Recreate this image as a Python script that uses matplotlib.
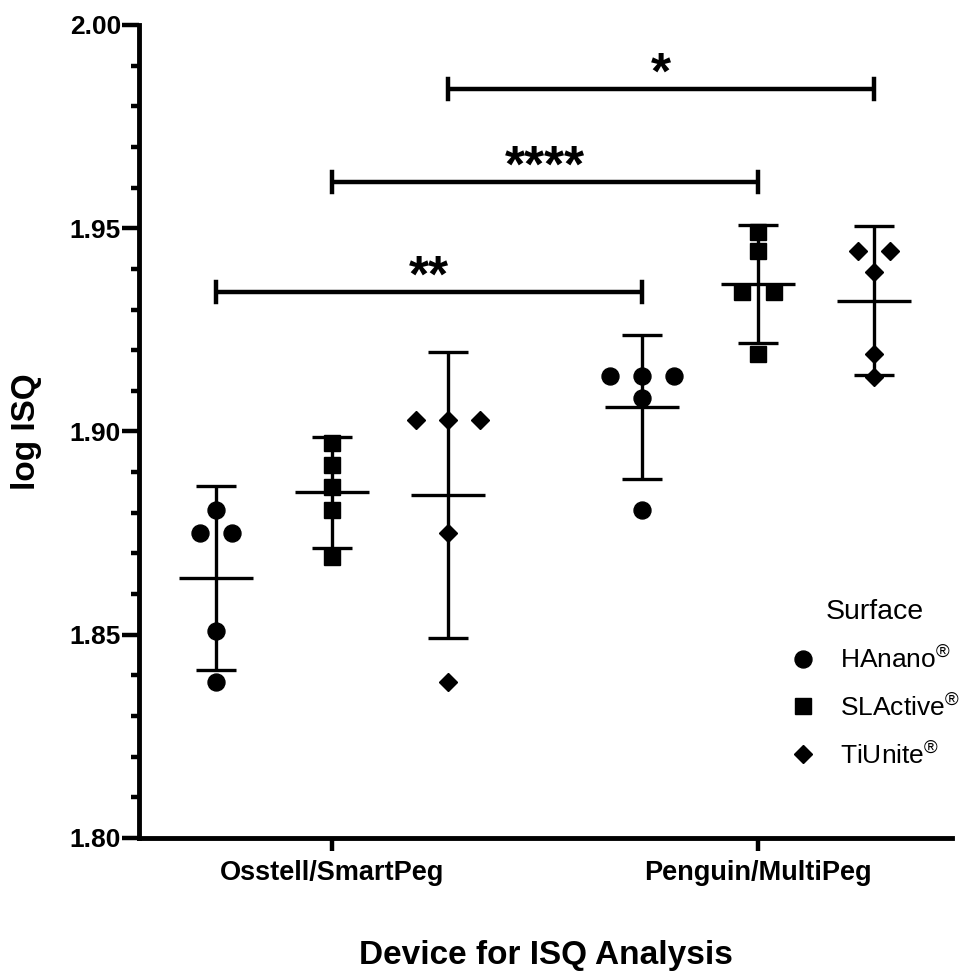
import numpy as np
import matplotlib
matplotlib.use("Agg")
import matplotlib.pyplot as plt
from matplotlib.lines import Line2D
from matplotlib.ticker import MultipleLocator, FormatStrFormatter

plt.rcParams["font.family"] = ["Liberation Sans", "DejaVu Sans"]
plt.rcParams["mathtext.fontset"] = "custom"
plt.rcParams["mathtext.rm"] = "Liberation Sans"
plt.rcParams["mathtext.bf"] = "Liberation Sans:bold"

devices = ["Osstell/SmartPeg", "Penguin/MultiPeg"]
surfaces = ["HAnano", "SLActive", "TiUnite"]
markers = ["o", "s", "D"]
marker_sizes = [12.2, 12, 9]

# log ISQ values
osstell_hanano = [1.8807, 1.8750, 1.8750, 1.8509, 1.8384]
osstell_slactive = [1.8971, 1.8918, 1.8863, 1.8807, 1.8692]
osstell_tiunite = [1.9028, 1.9028, 1.9028, 1.8750, 1.8384]
penguin_hanano = [1.9137, 1.9137, 1.9137, 1.9083, 1.8807]
penguin_slactive = [1.9491, 1.9444, 1.9343, 1.9343, 1.9191]
penguin_tiunite = [1.9444, 1.9444, 1.9393, 1.9191, 1.9135]

# SD (error bars)
osstell_sd = [0.0227, 0.0136, 0.0352]
penguin_sd = [0.0178, 0.0145, 0.0183]

# significance brackets: one per surface, Osstell vs Penguin
sig_labels = ["**", "****", "*"]
sig_heights = [1.9343, 1.9614, 1.9843]

groups = [
    [osstell_hanano, osstell_slactive, osstell_tiunite],
    [penguin_hanano, penguin_slactive, penguin_tiunite],
]
sds = [osstell_sd, penguin_sd]

gap = 0.272
jitter = 0.075
lw = 2.4

fig = plt.figure(figsize=(9.69, 9.71), dpi=100)
ax = fig.add_axes([0.1434, 0.137, 0.8391, 0.8373])

for d in range(len(devices)):
    for s in range(len(surfaces)):
        xc = d + (s - 1) * gap
        vals = np.array(groups[d][s])
        xs = np.full(len(vals), xc)
        for v in np.unique(vals):
            idx = np.where(vals == v)[0]
            xs[idx] = xc + (np.arange(len(idx)) - (len(idx) - 1) / 2) * jitter
        ax.plot(xs, vals, linestyle="none", marker=markers[s], ms=marker_sizes[s],
                color="black", zorder=3)
        m = vals.mean()
        ax.hlines(m, xc - 0.087, xc + 0.087, color="black", lw=lw, zorder=2)
        ax.errorbar(xc, m, yerr=sds[d][s], fmt="none", ecolor="black", elinewidth=lw,
                    capsize=14.5, capthick=lw, zorder=2)

dh = 0.0025
for s in range(len(surfaces)):
    x1 = 0 + (s - 1) * gap
    x2 = 1 + (s - 1) * gap
    h = sig_heights[s]
    ax.plot([x1, x2], [h, h], color="black", lw=3.2, solid_capstyle="butt")
    ax.plot([x1, x1], [h - dh, h + dh], color="black", lw=3.2)
    ax.plot([x2, x2], [h - dh, h + dh], color="black", lw=3.2)
    ax.annotate(sig_labels[s], xy=((x1 + x2) / 2, h), xytext=(0, 0),
                textcoords="offset points", ha="center", va="baseline",
                fontsize=37, fontweight="bold")

ax.set_xlim(-0.453, 1.455)
ax.set_ylim(1.80, 2.00)
ax.set_xticks(range(len(devices)))
ax.set_xticklabels(devices, fontsize=19.5, fontweight="bold")
ax.set_yticks(np.arange(1.80, 2.001, 0.05))
ax.yaxis.set_minor_locator(MultipleLocator(0.01))
ax.yaxis.set_major_formatter(FormatStrFormatter("%.2f"))
for lab in ax.get_yticklabels():
    lab.set_fontsize(19)
    lab.set_fontweight("bold")

ax.spines["top"].set_visible(False)
ax.spines["right"].set_visible(False)
ax.spines["left"].set_linewidth(3.5)
ax.spines["bottom"].set_linewidth(3.5)
ax.tick_params(axis="y", which="major", length=12, width=3.2, pad=1)
ax.tick_params(axis="y", which="minor", length=6, width=3.2)
ax.tick_params(axis="x", which="major", length=9.5, width=3.2, pad=6)

ax.set_xlabel("Device for ISQ Analysis", fontsize=24, fontweight="bold", labelpad=39)
ax.set_ylabel("log ISQ", fontsize=24, fontweight="bold", labelpad=20)

handles = [Line2D([], [], linestyle="none", marker=markers[s], ms=marker_sizes[s],
                  color="black") for s in range(len(surfaces))]
labels = [name + r"$^{\circledR}$" for name in surfaces]
ax.legend(handles, labels, title="Surface", loc="upper left",
          bbox_to_anchor=(777 / 969, 1 - 586 / 971), bbox_transform=fig.transFigure,
          frameon=False, fontsize=19, title_fontsize=20.5, handlelength=1,
          handletextpad=0.87, borderpad=0, labelspacing=0.75)

fig.savefig("out.png", dpi=100)
